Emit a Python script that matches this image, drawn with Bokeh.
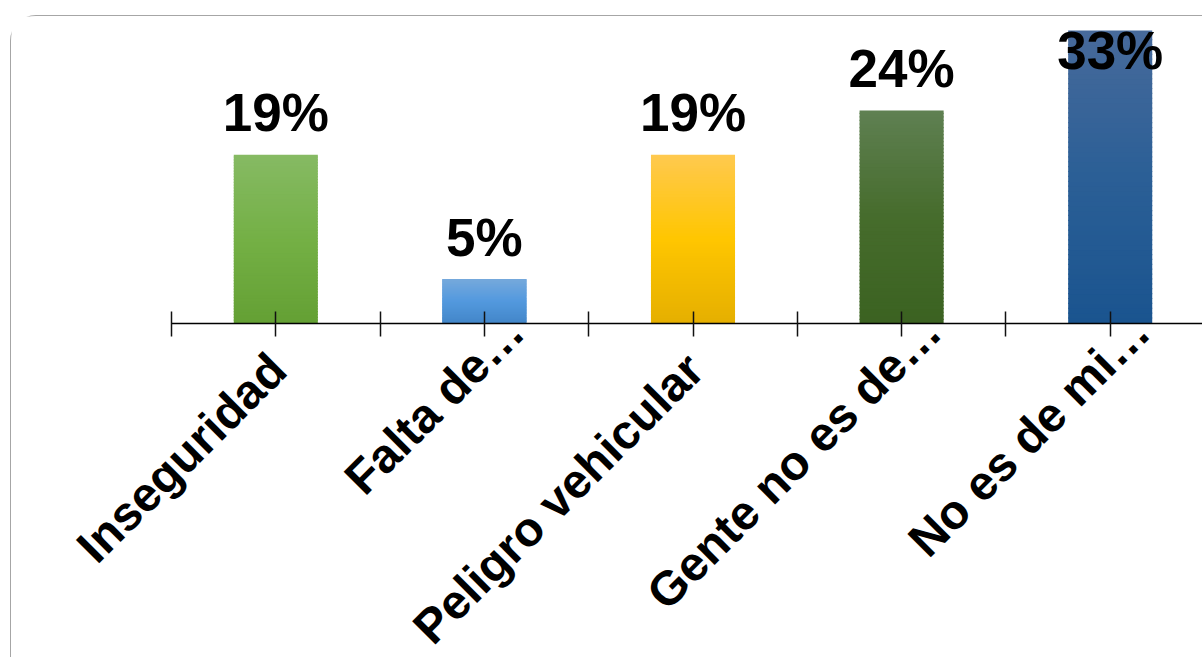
import numpy as np
from bokeh.plotting import figure
from bokeh.models import (FixedTicker, CustomJSTickFormatter, Range1d, ColumnDataSource,
                          LinearAxis)
from bokeh.core.properties import value
from bokeh.embed import file_html
from bokeh.resources import INLINE

# ---- data -------------------------------------------------------------
categories = ["Inseguridad", "Falta de…", "Peligro vehicular", "Gente no es de…", "No es de mi…"]
percentages = [19, 5, 19, 24, 33]
value_labels = ["19%", "5%", "19%", "24%", "33%"]

# vertical gradient stops for each bar (top, middle, bottom)
grad_top = ["#86BA64", "#76A9DC", "#FFC94F", "#5F8052", "#476A9B"]
grad_mid = ["#74B045", "#5399DE", "#FFC600", "#466C2C", "#2B5F96"]
grad_bot = ["#64A034", "#4386C8", "#E5AF00", "#3B6221", "#1A548F"]

# ---- layout constants ---------------------------------------------------
FONT = "Liberation Sans"
AXIS_LEFT = 160           # px from figure edge to start of the category axis
AXIS_Y = 307              # px from top of figure to the category axis
PX_PER_UNIT_X = 208.6     # px per category
PX_PER_PCT = 8.879        # px per percentage point
BAR_W = 0.403             # bar width in category units
FIG_W, FIG_H = 1192, 642

x_start = -0.5 - AXIS_LEFT / PX_PER_UNIT_X
x_end = -0.5 + (FIG_W - AXIS_LEFT) / PX_PER_UNIT_X
y_end = AXIS_Y / PX_PER_PCT
y_start = -(FIG_H - AXIS_Y) / PX_PER_PCT

p = figure(width=FIG_W, height=FIG_H, output_backend="svg", toolbar_location=None,
           x_range=Range1d(x_start, x_end), y_range=Range1d(y_start, y_end),
           min_border_left=0, min_border_right=0, min_border_top=0,
           min_border_bottom=0)
p.margin = (15, 0, 0, 10)
p.styles = {"border-left": "1.5px solid #A6A6A6", "border-top": "1.5px solid #A6A6A6",
            "border-top-left-radius": "26px", "background": "white"}
p.background_fill_color = "white"
p.border_fill_color = "white"
p.outline_line_color = None
p.xgrid.visible = False
p.ygrid.visible = False
p.yaxis.visible = False


def hex_to_rgb(h):
    h = h.lstrip("#")
    return np.array([int(h[i:i + 2], 16) for i in (0, 2, 4)], dtype=float)


def blend(c1, c2, t):
    c = hex_to_rgb(c1) * (1 - t) + hex_to_rgb(c2) * t
    return "#%02x%02x%02x" % tuple(int(round(v)) for v in c)


# ---- gradient bars, built from stacked slices ---------------------------
N = 60
overlap = 1.2 / PX_PER_PCT
left, right, bottom, top, colors = [], [], [], [], []
for i, v in enumerate(percentages):
    edges = np.linspace(0, v, N + 1)
    for k in range(N):
        t = 1 - (k + 0.5) / N        # 0 at top of bar, 1 at bottom
        if t < 0.5:
            col = blend(grad_top[i], grad_mid[i], t / 0.5)
        else:
            col = blend(grad_mid[i], grad_bot[i], (t - 0.5) / 0.5)
        left.append(i - BAR_W / 2)
        right.append(i + BAR_W / 2)
        bottom.append(edges[k])
        top.append(min(edges[k + 1] + overlap, v))
        colors.append(col)

p.quad(left=left, right=right, bottom=bottom, top=top, fill_color=colors, line_color=None)

# ---- value labels ---------------------------------------------------------
gap = 42 / PX_PER_PCT
cap = y_end - 34 / PX_PER_PCT
label_src = ColumnDataSource(dict(
    x=list(range(len(percentages))),
    y=[min(v + gap, cap) for v in percentages],
    text=value_labels,
))
p.text(x="x", y="y", text="text", source=label_src, text_align="center",
       text_baseline="alphabetic", text_font=value(FONT), text_font_style="bold",
       text_font_size="53px", text_color="black")

# ---- category axes ----------------------------------------------------------
# full names and truncated names ("…") are set on two overlaid axes so each
# group can be anchored with its own offset along the 45° label direction
full_idx = [i for i, c in enumerate(categories) if not c.endswith("…")]
trunc_idx = [i for i, c in enumerate(categories) if c.endswith("…")]

label_code = "const i = Math.round(tick); return (i >= 0 && i < labels.length) ? labels[i] : '';"


def style_labels(axis, standoff):
    axis.fixed_location = 0
    axis.bounds = (-0.5, x_end)
    axis.major_tick_in = 0
    axis.major_tick_out = 0
    axis.major_label_orientation = np.pi / 4
    axis.major_label_standoff = standoff
    axis.major_label_text_font = FONT
    axis.major_label_text_font_style = "bold"
    axis.major_label_text_font_size = "48px"
    axis.major_label_text_color = "black"
    axis.formatter = CustomJSTickFormatter(args=dict(labels=categories), code=label_code)


ax = p.xaxis[0]
style_labels(ax, 25)
ax.ticker = FixedTicker(
    ticks=[i + 2 / PX_PER_UNIT_X for i in full_idx],
    minor_ticks=[i - 0.5 for i in range(len(categories) + 1)] + list(range(len(categories))),
)
ax.axis_line_color = "black"
ax.axis_line_width = 1.6
ax.minor_tick_in = 12
ax.minor_tick_out = 13
ax.minor_tick_line_color = "#111111"
ax.minor_tick_line_width = 1.5

ax2 = LinearAxis()
style_labels(ax2, 0)
ax2.ticker = FixedTicker(ticks=[i + 31 / PX_PER_UNIT_X for i in trunc_idx], minor_ticks=[])
ax2.axis_line_color = None
ax2.minor_tick_line_color = None
p.add_layout(ax2, "below")

open("out.html", "w").write(file_html(p, INLINE))
